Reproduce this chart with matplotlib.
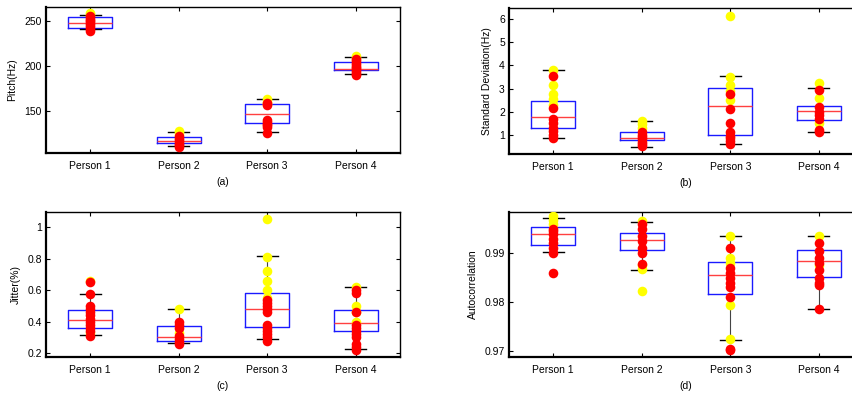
import matplotlib.pyplot as plt
from matplotlib.ticker import FuncFormatter

plt.rcParams['font.family'] = ['Liberation Sans', 'DejaVu Sans']
plt.rcParams['font.size'] = 7.5

persons = ['Person 1', 'Person 2', 'Person 3', 'Person 4']

# box stats per panel: lower whisker, q1, median, q3, upper whisker
pitch_box = [[240.5, 241.6, 247.8, 253.8, 256.6],
             [111.6, 115.0, 116.5, 121.2, 127.0],
             [126.4, 136.4, 146.7, 158.0, 163.0],
             [191.0, 195.2, 196.9, 204.4, 210.0]]
std_box = [[0.86, 1.29, 1.77, 2.45, 3.79],
           [0.46, 0.76, 0.87, 1.14, 1.60],
           [0.60, 0.99, 2.24, 3.03, 3.53],
           [1.11, 1.64, 2.03, 2.24, 3.03]]
jitter_box = [[0.318, 0.362, 0.411, 0.474, 0.577],
              [0.263, 0.280, 0.300, 0.370, 0.482],
              [0.293, 0.364, 0.482, 0.581, 0.815],
              [0.227, 0.343, 0.389, 0.474, 0.621]]
auto_box = [[0.99021, 0.99164, 0.99384, 0.99527, 0.99712],
            [0.98664, 0.99062, 0.99274, 0.99418, 0.99630],
            [0.97233, 0.98158, 0.98555, 0.98829, 0.99342],
            [0.97849, 0.98514, 0.98849, 0.99062, 0.99342]]

# individual samples (yellow drawn first, red on top)
pitch_yellow = [[258, 257], [128, 126], [163, 160, 158], [211, 209]]
pitch_red = [[255, 253, 251, 249, 247, 245, 243, 241, 239],
             [122, 120, 118, 116, 114, 112, 110],
             [157, 159, 140, 138, 136, 134, 132, 126],
             [207, 205, 203, 201, 199, 197, 195, 193, 191, 190]]
std_yellow = [[3.8, 3.15, 2.75, 2.55, 2.3],
              [1.6, 1.45, 1.3],
              [6.15, 3.5, 3.15, 2.9, 2.5],
              [3.25, 2.6, 1.5]]
std_red = [[3.55, 2.15, 1.7, 1.5, 1.3, 1.15, 1.0, 0.85],
           [1.1, 1.0, 0.9, 0.8, 0.7, 0.6, 0.5],
           [2.75, 2.1, 1.5, 1.1, 0.95, 0.85, 0.75, 0.6],
           [2.95, 2.2, 2.0, 1.85, 1.7, 1.2, 1.1]]
jitter_yellow = [[0.66, 0.33],
                 [0.48, 0.33],
                 [1.05, 0.81, 0.72, 0.66, 0.6, 0.55],
                 [0.62, 0.5, 0.46, 0.4]]
jitter_red = [[0.655, 0.575, 0.5, 0.48, 0.46, 0.44, 0.42, 0.4, 0.38, 0.36, 0.34, 0.31],
              [0.4, 0.38, 0.36, 0.31, 0.29, 0.27, 0.26],
              [0.54, 0.52, 0.5, 0.48, 0.46, 0.38, 0.36, 0.34, 0.32, 0.3, 0.28],
              [0.6, 0.58, 0.46, 0.38, 0.36, 0.34, 0.32, 0.3, 0.26, 0.24, 0.22]]
auto_yellow = [[0.9975, 0.9968, 0.996],
               [0.9965, 0.9875, 0.9868, 0.9822],
               [0.9935, 0.989, 0.988, 0.9795, 0.9725],
               [0.9935, 0.9875]]
auto_red = [[0.995, 0.9945, 0.994, 0.993, 0.992, 0.991, 0.990, 0.986],
            [0.996, 0.995, 0.9935, 0.9925, 0.991, 0.990, 0.9878],
            [0.991, 0.987, 0.986, 0.985, 0.984, 0.983, 0.981, 0.9705, 0.9702],
            [0.992, 0.9905, 0.989, 0.988, 0.9865, 0.985, 0.984, 0.9835, 0.9785]]

panels = [
    ('Pitch(Hz)', '(a)', pitch_box, pitch_yellow, pitch_red, (103.5, 265), [150, 200, 250]),
    ('Standard Deviation(Hz)', '(b)', std_box, std_yellow, std_red, (0.17, 6.48), [1, 2, 3, 4, 5, 6]),
    ('Jitter(%)', '(c)', jitter_box, jitter_yellow, jitter_red, (0.176, 1.097), [0.2, 0.4, 0.6, 0.8, 1.0]),
    ('Autocorrelation', '(d)', auto_box, auto_yellow, auto_red, (0.96877, 0.99842), [0.97, 0.98, 0.99]),
]

W, H = 853, 397
fig = plt.figure(figsize=(W / 100, H / 100), dpi=100)
# axes boxes in pixels: left, top, right, bottom (right column runs past the edge)
rects = [(46, 7, 400, 153), (509, 8, 863, 154), (46, 212, 400, 357), (509, 212, 863, 357)]

for (ylabel, tag, box, yel, red, ylim, yticks), (l, t, r, b) in zip(panels, rects):
    ax = fig.add_axes([l / W, (H - b) / H, (r - l) / W, (b - t) / H])
    stats = []
    for lo, q1, med, q3, hi in box:
        stats.append({'whislo': lo, 'q1': q1, 'med': med, 'q3': q3, 'whishi': hi, 'fliers': []})
    pos = [1, 2, 3, 4]
    ax.bxp(stats, positions=pos, widths=0.5, capwidths=0.24, showfliers=False,
           boxprops=dict(color='#1a1aff', linewidth=1.0),
           medianprops=dict(color='#ff4040', linewidth=1.0),
           whiskerprops=dict(color='#444444', linewidth=0.8),
           capprops=dict(color='black', linewidth=1.0))
    for i in range(4):
        ax.scatter([pos[i]] * len(yel[i]), yel[i], s=48, color='yellow', zorder=3, linewidths=0)
        ax.scatter([pos[i]] * len(red[i]), red[i], s=48, color='red', zorder=4, linewidths=0)
    ax.set_xlim(0.5, 4.5)
    ax.set_ylim(*ylim)
    ax.set_xticks(pos)
    ax.set_xticklabels(persons)
    ax.set_yticks(yticks)
    if tag == '(c)':
        ax.yaxis.set_major_formatter(FuncFormatter(lambda v, p: '%g' % v))
    ax.tick_params(direction='in', length=3, width=0.8, top=True, right=True, pad=3)
    ax.tick_params(axis='x', pad=6)
    for side in ['left', 'bottom']:
        ax.spines[side].set_linewidth(1.6)
    for side in ['top', 'right']:
        ax.spines[side].set_linewidth(1.0)
    ax.set_ylabel(ylabel, labelpad=5)
    ax.set_xlabel(tag, labelpad=4)

plt.savefig('out.png', dpi=100)
